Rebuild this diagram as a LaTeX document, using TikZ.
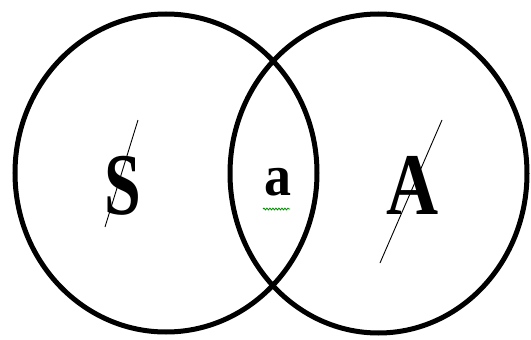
\documentclass[tikz,border=0pt]{standalone}
\usepackage{fontspec}
\setmainfont{Liberation Serif}
\usetikzlibrary{decorations.pathmorphing}

\begin{document}
\begin{tikzpicture}[x=1pt,y=-1pt,every node/.style={font=\bfseries,inner sep=0pt}]
  \useasboundingbox (0,0) rectangle (531,340);
  \coordinate (cS) at (166,173);
  \coordinate (cA) at (378.5,173.5);
  \draw[line width=5pt] (cS) ellipse [x radius=151,y radius=159];
  \draw[line width=5pt] (cA) ellipse [x radius=148.5,y radius=159.5];
  \node[anchor=base,xscale=0.75,font=\bfseries\fontsize{88}{88}\selectfont] (S) at (123,214) {S};
  \node[anchor=base,xscale=0.82,font=\bfseries\fontsize{88}{88}\selectfont] (A) at (413,214) {A};
  \node[anchor=base,xscale=0.93,font=\bfseries\fontsize{58}{58}\selectfont] (a) at (278,195) {a};
  % slashes
  \coordinate (s1) at (138,120);
  \coordinate (s2) at (105,227);
  \coordinate (a1) at (442,120);
  \coordinate (a2) at (380,263);
  \draw[line width=0.9pt] (s1) -- (s2);
  \draw[line width=0.9pt] (a1) -- (a2);
  % squiggle under a
  \coordinate (w1) at (263,209);
  \coordinate (w2) at (290,209);
  \draw[green!55!black,line width=0.8pt,decorate,decoration={snake,amplitude=0.9pt,segment length=3pt}] (w1) -- (w2);
\end{tikzpicture}
\end{document}
